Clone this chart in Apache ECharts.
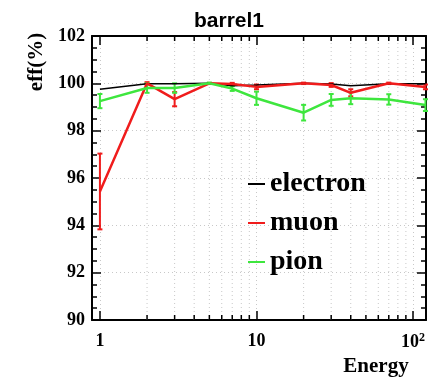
<!DOCTYPE html>
<html>
<head>
<meta charset="utf-8">
<script src="https://cdn.jsdelivr.net/npm/echarts@6/dist/echarts.min.js"></script>
<style>
  html, body { margin: 0; padding: 0; background: #fff; }
  #chart { width: 434px; height: 378px; }
</style>
</head>
<body>
<div id="chart"></div>
<script>
// energies (log x axis)
var energy = [1, 2, 3, 5, 7, 10, 20, 30, 40, 70, 120];

var electronEff = [99.75, 99.98, 99.98, 100, 99.9, 99.93, 100, 99.97, 99.9, 99.98, 99.98];
var muonEff = [95.43, 100, 99.33, 100, 99.97, 99.85, 100, 99.93, 99.6, 100, 99.85];
var muonErr = [1.6, 0.05, 0.3, 0.02, 0.05, 0.1, 0.03, 0.08, 0.15, 0.03, 0.1];
var pionEff = [99.25, 99.8, 99.8, 100, 99.78, 99.37, 98.76, 99.3, 99.37, 99.32, 99.08];
var pionErr = [0.3, 0.2, 0.2, 0.03, 0.1, 0.28, 0.33, 0.25, 0.25, 0.22, 0.25];

// x axis ticks
var xMajorTicks = [1, 10, 100];
var xMajorLabels = ['1', '10', '10^2'];
var xMinorTicks = [2, 3, 4, 5, 6, 7, 8, 9, 20, 30, 40, 50, 60, 70, 80, 90];

var SERIF = '"Liberation Serif", "DejaVu Serif", serif';
var RED = '#f01c1c', GREEN = '#3ee63e';

function pairs(xs, ys) {
    var out = [];
    for (var i = 0; i < xs.length; i++) out.push([xs[i], ys[i]]);
    return out;
}
function errData(xs, ys, es) {
    var out = [];
    for (var i = 0; i < xs.length; i++) out.push([xs[i], ys[i] - es[i], ys[i] + es[i]]);
    return out;
}
function errSeries(name, data, color) {
    return {
        type: 'custom', name: name, data: data, z: 3,
        renderItem: function (params, api) {
            var lo = api.coord([api.value(0), api.value(1)]);
            var hi = api.coord([api.value(0), api.value(2)]);
            var x = lo[0], w = 2.5;
            var st = { stroke: color, lineWidth: 2 };
            return {
                type: 'group', children: [
                    { type: 'line', shape: { x1: x, y1: lo[1], x2: x, y2: hi[1] }, style: st },
                    { type: 'line', shape: { x1: x - w, y1: lo[1], x2: x + w, y2: lo[1] }, style: st },
                    { type: 'line', shape: { x1: x - w, y1: hi[1], x2: x + w, y2: hi[1] }, style: st }
                ]
            };
        }
    };
}

var chart = echarts.init(document.getElementById('chart'));

var axisLine = { show: true, lineStyle: { color: '#000', width: 2 } };
var dotted = { show: true, lineStyle: { color: '#c8c8c8', type: [1, 3], width: 1 } };

var option = {
    animation: false,
    backgroundColor: '#fff',
    title: {
        text: 'barrel1', left: 189, top: 6,
        textStyle: { fontFamily: '"Liberation Sans", Arial, sans-serif', fontWeight: 'bold', fontSize: 21, color: '#000' }
    },
    grid: { left: 92, right: 8, top: 36, bottom: 58 },
    legend: {
        orient: 'vertical', left: 242, top: 164,
        itemWidth: 17, itemHeight: 2, itemGap: 9,
        data: ['electron', 'muon', 'pion'],
        textStyle: { fontFamily: SERIF, fontWeight: 'bold', fontSize: 28, color: '#000', lineHeight: 30 }
    },
    xAxis: [{
        type: 'log', logBase: 10, min: 0.89, max: 121,
        axisLine: axisLine,
        axisTick: { inside: true, length: 9, lineStyle: { color: '#000', width: 1.5 } },
        splitLine: dotted,
        axisLabel: {
            showMinLabel: false, showMaxLabel: false, margin: 12, color: '#000',
            fontFamily: SERIF, fontWeight: 'bold', fontSize: 18,
            formatter: function (v) {
                for (var i = 0; i < xMajorTicks.length; i++) {
                    if (Math.abs(v - xMajorTicks[i]) < 1e-6 * xMajorTicks[i]) {
                        var s = xMajorLabels[i].split('^');
                        return s.length > 1 ? '{b|' + s[0] + '}{s|' + s[1] + '}' : '{b|' + s[0] + '}';
                    }
                }
                return '';
            },
            rich: {
                b: { fontFamily: SERIF, fontWeight: 'bold', fontSize: 18, color: '#000' },
                s: { fontFamily: SERIF, fontWeight: 'bold', fontSize: 12, color: '#000', verticalAlign: 'top', padding: [0, 0, 8, 0] }
            }
        }
    }, {
        type: 'log', logBase: 10, min: 0.89, max: 121, position: 'top',
        axisLine: axisLine,
        axisTick: { inside: true, length: 9, lineStyle: { color: '#000', width: 1.5 } },
        axisLabel: { show: false }, splitLine: { show: false }
    }],
    yAxis: [{
        type: 'value', min: 90, max: 102, interval: 2,
        axisLine: axisLine,
        axisTick: { inside: true, length: 9, lineStyle: { color: '#000', width: 1.5 } },
        minorTick: { show: true, splitNumber: 4, length: 5, lineStyle: { color: '#000', width: 1.5 } },
        splitLine: dotted,
        axisLabel: { margin: 7, color: '#000', fontFamily: SERIF, fontWeight: 'bold', fontSize: 18 }
    }, {
        type: 'value', min: 90, max: 102, interval: 2, position: 'right',
        axisLine: axisLine,
        axisTick: { inside: true, length: 9, lineStyle: { color: '#000', width: 1.5 } },
        minorTick: { show: true, splitNumber: 4, length: 5, lineStyle: { color: '#000', width: 1.5 } },
        axisLabel: { show: false }, splitLine: { show: false }
    }],
    graphic: [
        { type: 'text', x: 37, y: 62, rotation: Math.PI / 2,
          style: { text: 'eff(%)', font: 'bold 21px ' + SERIF, fill: '#000', align: 'center', verticalAlign: 'middle' } },
        { type: 'text', x: 376, y: 367,
          style: { text: 'Energy', font: 'bold 21px ' + SERIF, fill: '#000', align: 'center', verticalAlign: 'middle' } }
    ],
    series: [
        {
            // minor log ticks and grid lines
            type: 'custom', name: 'minor', data: xMinorTicks, z: 1, silent: true,
            renderItem: function (params, api) {
                var b = api.coord([api.value(0), 90]);
                var t = api.coord([api.value(0), 102]);
                var tk = { stroke: '#000', lineWidth: 1.5 };
                return {
                    type: 'group', children: [
                        { type: 'line', shape: { x1: b[0], y1: b[1], x2: t[0], y2: t[1] }, style: { stroke: '#c8c8c8', lineWidth: 1, lineDash: [1, 3] } },
                        { type: 'line', shape: { x1: b[0], y1: b[1], x2: b[0], y2: b[1] - 5 }, style: tk },
                        { type: 'line', shape: { x1: t[0], y1: t[1], x2: t[0], y2: t[1] + 5 }, style: tk }
                    ]
                };
            }
        },
        { type: 'line', name: 'electron', data: pairs(energy, electronEff), symbol: 'none', z: 4,
          lineStyle: { color: '#000', width: 1.5 }, itemStyle: { color: '#000' } },
        { type: 'line', name: 'muon', data: pairs(energy, muonEff), symbol: 'none', z: 4,
          lineStyle: { color: RED, width: 2.5 }, itemStyle: { color: RED } },
        { type: 'line', name: 'pion', data: pairs(energy, pionEff), symbol: 'none', z: 4,
          lineStyle: { color: GREEN, width: 2.5 }, itemStyle: { color: GREEN } },
        errSeries('muon err', errData(energy, muonEff, muonErr), RED),
        errSeries('pion err', errData(energy, pionEff, pionErr), GREEN)
    ]
};
chart.setOption(option);
</script>
</body>
</html>
